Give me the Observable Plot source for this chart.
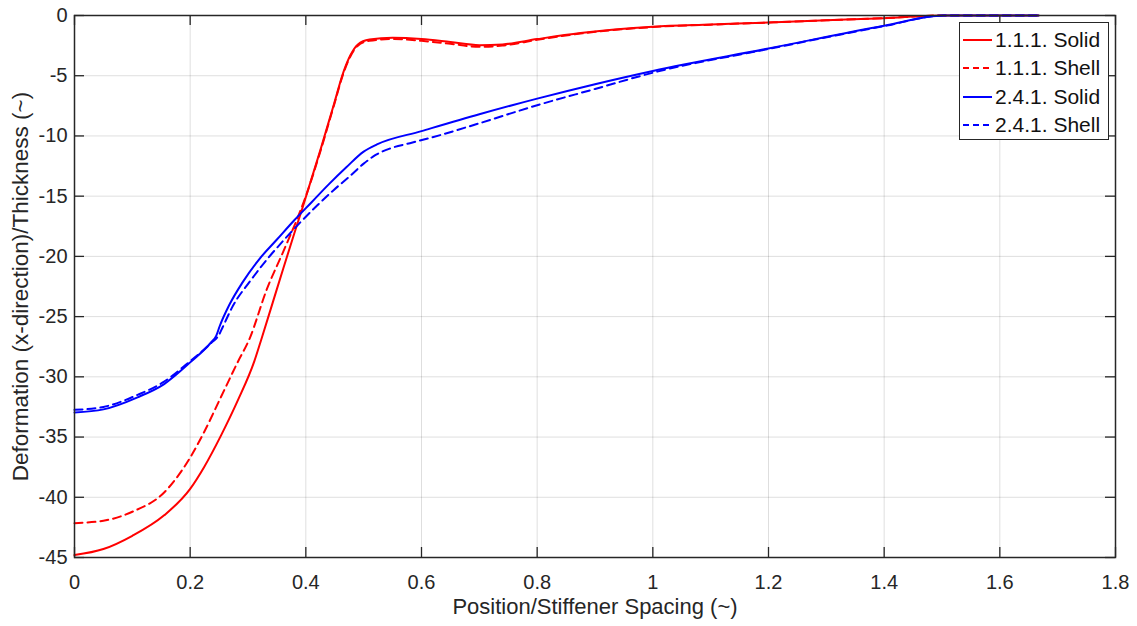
<!DOCTYPE html>
<html>
<head>
<meta charset="utf-8">
<script src="https://cdn.jsdelivr.net/npm/d3@7"></script>
<script src="https://cdn.jsdelivr.net/npm/@observablehq/plot@0.6"></script>
<style>
  html, body { margin: 0; padding: 0; background: #fff; }
  #wrap { position: relative; width: 1137px; height: 626px; font-family: "Liberation Sans", Arial, sans-serif; }
  #legend { position: absolute; left: 959px; top: 22px; width: 150px; height: 118px; box-sizing: border-box;
    border: 1.3px solid #262626; background: #fff; }
  #legend .row { position: absolute; left: 3px; height: 26px; display: flex; align-items: center; font-size: 21px; color: #111; white-space: nowrap; }
  #legend svg { margin-right: 3px; }
</style>
</head>
<body>
<div id="wrap"></div>
<script>
// ---- data ----
const xTicks = [0, 0.2, 0.4, 0.6, 0.8, 1, 1.2, 1.4, 1.6, 1.8];
const yTicks = [0, -5, -10, -15, -20, -25, -30, -35, -40, -45];

const seriesNames = ["1.1.1. Solid", "1.1.1. Shell", "2.4.1. Solid", "2.4.1. Shell"];
const seriesColors = ["#ff0000", "#ff0000", "#0000ff", "#0000ff"];
const seriesDashed = [false, true, false, true];

const solid111X = [0, 0.05, 0.1, 0.155, 0.2, 0.224, 0.253, 0.282, 0.311, 0.323, 0.343, 0.361, 0.38, 0.394, 0.425, 0.449, 0.465, 0.477, 0.49, 0.51, 0.55, 0.6, 0.65, 0.7, 0.74, 0.8, 0.875, 1.0, 1.1, 1.2, 1.3, 1.4, 1.5, 1.667];
const solid111Y = [-44.8, -44.3, -43.2, -41.5, -39.3, -37.5, -34.9, -32.0, -28.7, -26.9, -23.8, -21.0, -18.1, -16.0, -11.2, -7.3, -4.7, -3.3, -2.4, -2.0, -1.85, -1.95, -2.2, -2.46, -2.4, -1.96, -1.46, -0.94, -0.75, -0.58, -0.4, -0.22, 0, 0];

const shell111X = [0, 0.05, 0.1, 0.155, 0.2, 0.224, 0.253, 0.282, 0.303, 0.332, 0.361, 0.384, 0.4, 0.425, 0.449, 0.465, 0.477, 0.49, 0.51, 0.55, 0.6, 0.65, 0.7, 0.74, 0.8, 0.875, 1.0, 1.1, 1.2, 1.3, 1.4, 1.5, 1.667];
const shell111Y = [-42.15, -41.95, -41.2, -39.6, -36.7, -34.6, -31.7, -28.8, -26.8, -22.8, -19.6, -17.0, -15.0, -11.3, -7.4, -4.8, -3.4, -2.5, -2.1, -1.95, -2.1, -2.35, -2.6, -2.5, -2.02, -1.5, -0.96, -0.76, -0.58, -0.4, -0.22, 0, 0];

const solid241X = [0, 0.05, 0.109, 0.155, 0.2, 0.236, 0.245, 0.251, 0.268, 0.29, 0.32, 0.35, 0.38, 0.41, 0.44, 0.47, 0.5, 0.523, 0.6, 0.7, 0.8, 0.9, 1.0, 1.2, 1.4, 1.503, 1.667];
const solid241Y = [-32.96, -32.7, -31.7, -30.6, -28.8, -27.15, -26.6, -25.8, -24.0, -22.2, -20.2, -18.6, -17.0, -15.5, -14.0, -12.6, -11.3, -10.7, -9.6, -8.2, -6.9, -5.7, -4.6, -2.74, -0.85, 0, 0];

const shell241X = [0, 0.05, 0.109, 0.155, 0.2, 0.236, 0.25, 0.256, 0.274, 0.303, 0.332, 0.361, 0.39, 0.419, 0.448, 0.477, 0.5, 0.52, 0.545, 0.58, 0.616, 0.7, 0.8, 0.9, 1.0, 1.2, 1.4, 1.503, 1.667];
const shell241Y = [-32.74, -32.5, -31.5, -30.4, -28.7, -27.2, -26.5, -25.9, -24.1, -22.1, -20.3, -18.7, -17.2, -15.8, -14.5, -13.3, -12.3, -11.6, -11.05, -10.6, -10.15, -8.95, -7.45, -6.1, -4.75, -2.78, -0.88, 0, 0];

const xLabel = "Position/Stiffener Spacing (~)";
const yLabel = "Deformation (x-direction)/Thickness (~)";

// ---- build table ----
const allX = [solid111X, shell111X, solid241X, shell241X];
const allY = [solid111Y, shell111Y, solid241Y, shell241Y];
const rows = [];
allX.forEach((xs, i) => xs.forEach((x, j) => rows.push({series: seriesNames[i], x, y: allY[i][j], idx: i})));

const fmt = d => String(+(+d).toFixed(2));
const axisColor = "#262626";
const lineMarks = seriesNames.map((name, i) =>
  Plot.line(rows.filter(r => r.idx === i), {
    x: "x", y: "y", stroke: seriesColors[i], strokeWidth: 2,
    strokeDasharray: seriesDashed[i] ? "8,5" : null, curve: "monotone-x"
  })
);

const innerH = 626 - 15 - 69;
const innerW = 1137 - 74 - 22;

const chart = Plot.plot({
  width: 1137, height: 626,
  marginLeft: 74, marginRight: 22, marginTop: 15, marginBottom: 69,
  style: {fontFamily: "'Liberation Sans', Arial, sans-serif", color: axisColor, background: "white", overflow: "visible"},
  x: {domain: [0, 1.8]},
  y: {domain: [-45, 0]},
  marks: [
    Plot.gridX(xTicks, {stroke: "#000", strokeOpacity: 0.13, strokeWidth: 1}),
    Plot.gridY(yTicks, {stroke: "#000", strokeOpacity: 0.13, strokeWidth: 1}),
    ...lineMarks,
    Plot.ruleX(xTicks, {stroke: axisColor, strokeWidth: 1.3, insetTop: innerH - 10}),
    Plot.ruleX(xTicks, {stroke: axisColor, strokeWidth: 1.3, insetBottom: innerH - 10}),
    Plot.ruleY(yTicks, {stroke: axisColor, strokeWidth: 1.3, insetRight: innerW - 10}),
    Plot.ruleY(yTicks, {stroke: axisColor, strokeWidth: 1.3, insetLeft: innerW - 10}),
    Plot.frame({stroke: axisColor, strokeWidth: 1.5}),
    Plot.axisX(xTicks, {tickSize: 0, tickPadding: 17, tickFormat: fmt, label: null, fill: axisColor, fontSize: 20}),
    Plot.axisY(yTicks, {tickSize: 0, tickPadding: 7, tickFormat: fmt, label: null, fill: axisColor, fontSize: 20}),
    Plot.text([xLabel], {text: d => d, frameAnchor: "bottom", lineAnchor: "middle", dy: 49, fontSize: 22, fill: axisColor}),
    Plot.text([yLabel], {text: d => d, frameAnchor: "left", textAnchor: "middle", lineAnchor: "middle", rotate: -90, dx: -54, fontSize: 22.5, fill: axisColor})
  ]
});

const wrap = document.getElementById("wrap");
wrap.appendChild(chart);

// legend overlay
const legend = document.createElement("div");
legend.id = "legend";
seriesNames.forEach((name, i) => {
  const row = document.createElement("div");
  row.className = "row";
  row.style.top = (4 + i * 28.4) + "px";
  row.innerHTML = `<svg width="29" height="6"><line x1="0" x2="29" y1="3" y2="3" stroke="${seriesColors[i]}" stroke-width="2" ${seriesDashed[i] ? 'stroke-dasharray="6,4"' : ''}/></svg><span>${name}</span>`;
  legend.appendChild(row);
});
wrap.appendChild(legend);
</script>
</body>
</html>
